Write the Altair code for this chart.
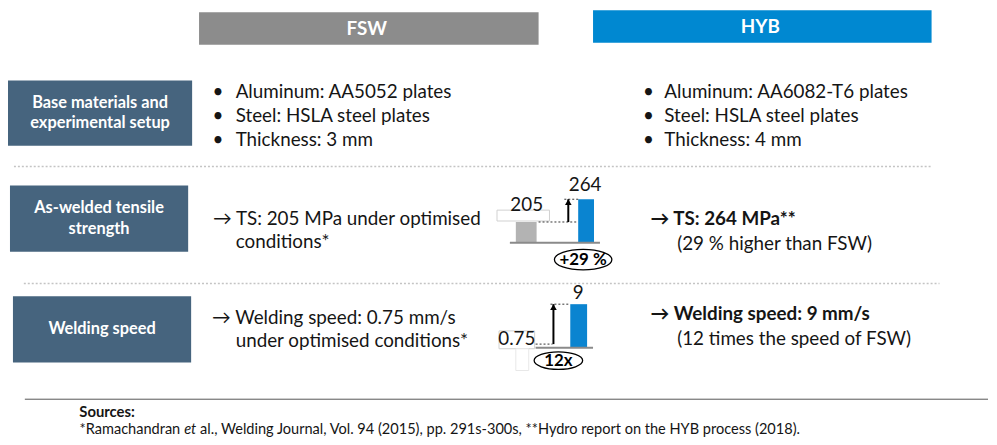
import altair as alt
import pandas as pd

# ---------------- data ----------------
headers = ["FSW", "HYB"]
row_labels = [["Base materials and", "experimental setup"],
              ["As-welded tensile", "strength"],
              ["Welding speed"]]
fsw_setup = ["Aluminum: AA5052 plates", "Steel: HSLA steel plates", "Thickness: 3 mm"]
hyb_setup = ["Aluminum: AA6082-T6 plates", "Steel: HSLA steel plates", "Thickness: 4 mm"]
fsw_ts_text = ["\u2192 TS: 205 MPa under optimised", "conditions*"]
hyb_ts_text = ["\u2192 TS: 264 MPa**", "(29 % higher than FSW)"]
fsw_speed_text = ["\u2192 Welding speed: 0.75 mm/s", "under optimised conditions*"]
hyb_speed_text = ["\u2192 Welding speed: 9 mm/s", "(12 times the speed of FSW)"]
processes = ["FSW", "HYB"]
ts_values = [205, 264]        # MPa
speed_values = [0.75, 9]      # mm/s
ts_gain = "+29 %"
speed_gain = "12x"
sources_title = "Sources:"
source_parts = ["*Ramachandran", "et",
                "al., Welding Journal, Vol. 94 (2015), pp. 291s-300s, **Hydro report on the HYB process (2018)."]

# ---------------- layout (page pixels) ----------------
W, H = 981, 429
FONT = "Lato"
X = alt.Scale(domain=[8, 8 + W], range=[0, W], nice=False, zero=False)
Y = alt.Scale(domain=[8, 8 + H], range=[0, H], nice=False, zero=False)
GREY_HDR, BLUE = "#8c8c8c", "#0088d1"
BOX = "#46647e"
INK = "#151515"


def xq(f="x"):
    return alt.X(f + ":Q", scale=X, axis=None)


def yq(f="y", scale=Y):
    return alt.Y(f + ":Q", scale=scale, axis=None)


def rect_layer(rows, **mk):
    df = pd.DataFrame(rows)
    return alt.Chart(df).mark_rect(**mk).encode(
        x=xq(), x2="x2:Q", y=yq(), y2="y2:Q",
        color=alt.Color("c:N", scale=None))


def text_layer(rows, **mk):
    df = pd.DataFrame(rows)
    params = dict(font=FONT, baseline="middle")
    params.update(mk)
    return alt.Chart(df).mark_text(**params).encode(
        x=xq(), y=yq(), text="t:N")


def hrule_layer(rows, **mk):
    df = pd.DataFrame(rows)
    return alt.Chart(df).mark_rule(**mk).encode(x=xq(), x2="x2:Q", y=yq())


layers = []

# header boxes
hdr_pos = [(200, 543, 8, 41, GREY_HDR), (598, 940, 6, 39, BLUE)]
layers.append(rect_layer([dict(x=a, x2=b, y=c, y2=d, c=col) for a, b, c, d, col in hdr_pos]))
layers.append(text_layer([dict(t=h, x=(p[0] + p[1]) / 2 - 2, y=(p[2] + p[3]) / 2 + 1)
                          for h, p in zip(headers, hdr_pos)],
                         align="center", fontSize=19, fontWeight="bold", color="white"))

# row label boxes
box_pos = [(7, 193, 77, 143), (9, 189, 183, 250), (12, 192, 295, 362)]
layers.append(rect_layer([dict(x=a, x2=b, y=c, y2=d, c=BOX) for a, b, c, d in box_pos]))
lab_rows = []
for lines, (a, b, c, d) in zip(row_labels, box_pos):
    n = len(lines)
    for i, ln in enumerate(lines):
        lab_rows.append(dict(t=ln, x=(a + b) / 2, y=(c + d) / 2 + (i - (n - 1) / 2) * 21))
layers.append(text_layer(lab_rows, align="center", fontSize=16.5, fontWeight="bold", color="white"))

# separators
layers.append(hrule_layer([dict(x=13, x2=939, y=164), dict(x=23, x2=948, y=282)],
                          color="#c4c4c4", strokeWidth=1.5, strokeDash=[2, 2]))
layers.append(hrule_layer([dict(x=24, x2=997, y=399)], color="#555555", strokeWidth=1))

# bullets
line_y = [89, 113, 137]
bul = []
txt = []
for items, bx, tx in [(fsw_setup, 219, 237), (hyb_setup, 654, 670)]:
    for s, yy in zip(items, line_y):
        bul.append(dict(t="\u2022", x=bx, y=yy))
        txt.append(dict(t=s, x=tx, y=yy))
layers.append(text_layer(bul, align="center", fontSize=19, color=INK))
layers.append(text_layer(txt, align="left", fontSize=19, color=INK))

# row texts
plain, bold = [], []
plain += [dict(t=fsw_ts_text[0], x=214, y=217), dict(t=fsw_ts_text[1], x=237, y=240),
          dict(t=fsw_speed_text[0], x=213, y=317), dict(t=fsw_speed_text[1], x=237, y=340),
          dict(t=hyb_ts_text[1], x=683, y=242), dict(t=hyb_speed_text[1], x=683, y=338)]
bold += [dict(t=hyb_ts_text[0], x=656, y=217), dict(t=hyb_speed_text[0], x=656, y=313)]
layers.append(text_layer(plain, align="left", fontSize=19, color=INK))
layers.append(text_layer(bold, align="left", fontSize=19, fontWeight="bold", color=INK))

# sources
SRC = 14.7
layers.append(text_layer([dict(t=sources_title, x=79, y=412)], align="left", fontSize=15,
                         fontWeight="bold", color=INK))
et_x = 185
layers.append(text_layer([dict(t=source_parts[0], x=et_x - 4, y=430)],
                         align="right", fontSize=SRC, color=INK))
layers.append(text_layer([dict(t=source_parts[1], x=et_x, y=430)],
                         align="left", fontSize=SRC, fontStyle="italic", color=INK))
layers.append(text_layer([dict(t=source_parts[2], x=et_x + 16, y=430)],
                         align="left", fontSize=SRC, color=INK))

# value label boxes of the mini charts (decoration)
layers.append(rect_layer([dict(x=501, x2=554, y=208, y2=219, c="white"),
                          dict(x=503, x2=539, y=330, y2=348, c="white")],
                         stroke="#d0d0d0", strokeWidth=1))
layers.append(rect_layer([dict(x=520, x2=533, y=348, y2=370, c="white")],
                         stroke="#e8e8e8", strokeWidth=1))

# gain ellipses
ELL = "M -1 0 C -1 -0.2 -0.552 -0.36 0 -0.36 C 0.552 -0.36 1 -0.2 1 0 C 1 0.2 0.552 0.36 0 0.36 C -0.552 0.36 -1 0.2 -1 0 Z"
ell_df = pd.DataFrame([dict(t=ts_gain, x=588, y=258, s=58 ** 2), dict(t=speed_gain, x=563, y=360, s=49 ** 2)])
layers.append(alt.Chart(ell_df).mark_point(shape=ELL, filled=False, color="black", strokeWidth=1.3, opacity=1)
              .encode(x=xq(), y=yq(), size=alt.Size("s:Q", scale=None)))
layers.append(text_layer([dict(t=ts_gain, x=588, y=258), dict(t=speed_gain, x=563, y=360)],
                         align="center", fontSize=17, fontWeight="bold", color="black"))

page = alt.layer(*layers)


def vtext(df, scale, dy):
    return alt.Chart(df).mark_text(font=FONT, fontSize=19, baseline="middle", align="center",
                                   dy=dy, color=INK).encode(
        x=alt.X("x:Q", scale=X, axis=None), y=alt.Y("v:Q", scale=scale, axis=None), text="t:N")


# ---------------- mini chart 1: tensile strength ----------------
ts_min = 151
TSY = alt.Scale(domain=[ts_min, 264], range=[233, 189], nice=False, zero=False)
ts_df = pd.DataFrame(dict(p=processes, v=ts_values, x=[520, 583], x2=[541, 599], c=["#b3b3b3", "#0a84d0"]))
ts_lab = pd.DataFrame(dict(t=[str(v) for v in ts_values], v=ts_values, x=[531, 590]))
m1 = [
    alt.Chart(ts_df).mark_rect().encode(x=xq(), x2="x2:Q", y=alt.Y("v:Q", scale=TSY, axis=None),
                                        y2=alt.datum(ts_min), color=alt.Color("c:N", scale=None)),
    alt.Chart(pd.DataFrame([dict(x=514, x2=605, v=ts_min)])).mark_rule(color="#8a8a8a", strokeWidth=2)
    .encode(x=xq(), x2="x2:Q", y=alt.Y("v:Q", scale=TSY, axis=None)),
    alt.Chart(pd.DataFrame([dict(x=543, x2=583, v=ts_values[0]), dict(x=569, x2=583, v=ts_values[1])]))
    .mark_rule(color="#333333", strokeWidth=1, strokeDash=[2, 2])
    .encode(x=xq(), x2="x2:Q", y=alt.Y("v:Q", scale=TSY, axis=None)),
    alt.Chart(pd.DataFrame([dict(x=573, v=ts_values[0], v2=ts_values[1])]))
    .mark_rule(color="black", strokeWidth=2).encode(x=xq(), y=alt.Y("v:Q", scale=TSY, axis=None), y2="v2:Q"),
    alt.Chart(pd.DataFrame([dict(x=573, v=ts_values[1])]))
    .mark_point(shape="triangle-up", filled=True, color="black", size=45, opacity=1, yOffset=3)
    .encode(x=xq(), y=alt.Y("v:Q", scale=TSY, axis=None)),
    vtext(ts_lab.iloc[[0]], TSY, -17),
    vtext(ts_lab.iloc[[1]], TSY, -14),
]
mini1 = alt.layer(*m1)

# ---------------- mini chart 2: welding speed ----------------
SPY = alt.Scale(domain=[0, 9], range=[339, 295], nice=False, zero=False)
sp_df = pd.DataFrame(dict(p=processes, v=speed_values, x=[575, 575], x2=[592, 592]))
sp_lab = pd.DataFrame(dict(t=["0.75", "9"], v=speed_values, x=[521, 583]))
m2 = [
    alt.Chart(sp_df[sp_df.p == "HYB"]).mark_rect(color="#0a84d0").encode(
        x=xq(), x2="x2:Q", y=alt.Y("v:Q", scale=SPY, axis=None), y2=alt.datum(0)),
    alt.Chart(pd.DataFrame([dict(x=540, x2=598, v=0)])).mark_rule(color="#8a8a8a", strokeWidth=2)
    .encode(x=xq(), x2="x2:Q", y=alt.Y("v:Q", scale=SPY, axis=None)),
    alt.Chart(pd.DataFrame([dict(x=540, x2=557, v=speed_values[0]), dict(x=555, x2=575, v=speed_values[1])]))
    .mark_rule(color="#333333", strokeWidth=1, strokeDash=[2, 2])
    .encode(x=xq(), x2="x2:Q", y=alt.Y("v:Q", scale=SPY, axis=None)),
    alt.Chart(pd.DataFrame([dict(x=558, v=speed_values[0], v2=speed_values[1])]))
    .mark_rule(color="black", strokeWidth=2).encode(x=xq(), y=alt.Y("v:Q", scale=SPY, axis=None), y2="v2:Q"),
    alt.Chart(pd.DataFrame([dict(x=558, v=speed_values[1])]))
    .mark_point(shape="triangle-up", filled=True, color="black", size=45, opacity=1, yOffset=3)
    .encode(x=xq(), y=alt.Y("v:Q", scale=SPY, axis=None)),
    vtext(sp_lab.iloc[[0]], SPY, -5),
    vtext(sp_lab.iloc[[1]], SPY, -11),
]
mini2 = alt.layer(*m2)

chart = alt.layer(page, mini1, mini2).resolve_scale(y="independent").properties(
    width=W, height=H, padding=0, background="white"
).configure_view(strokeWidth=0, stroke=None)

chart.save("out.html", embed_options={"renderer": "svg", "actions": False})
